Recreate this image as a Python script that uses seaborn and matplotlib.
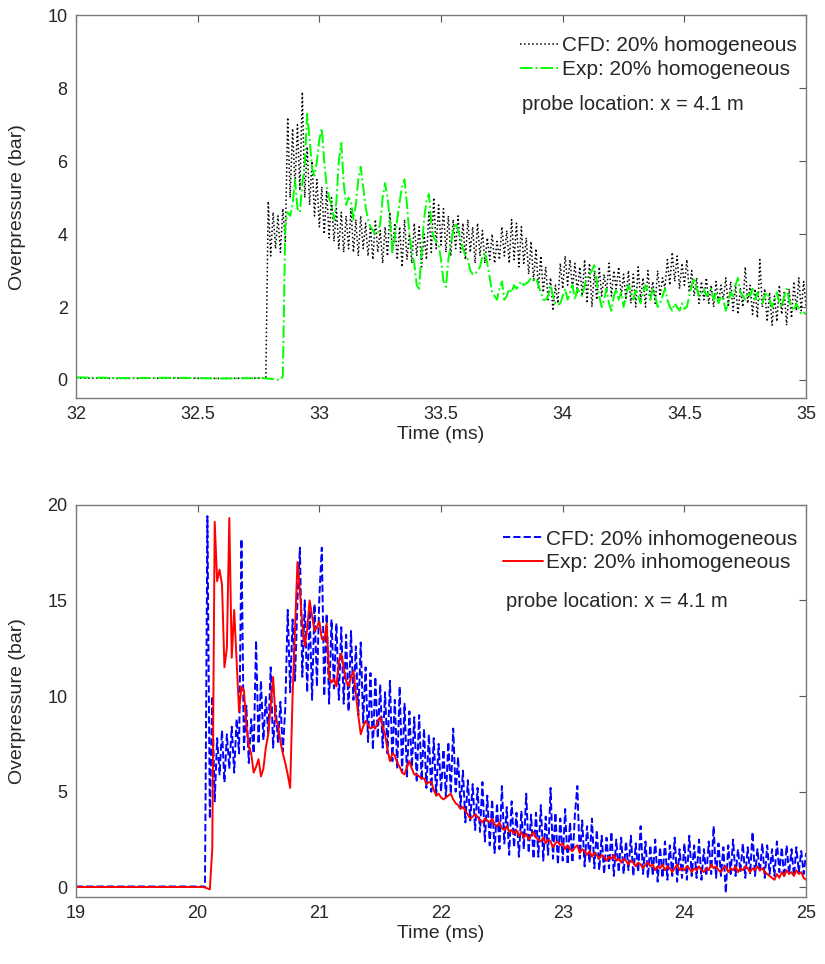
import numpy as np
import pandas as pd
import matplotlib
matplotlib.use('Agg')
import matplotlib.pyplot as plt
import seaborn as sns

# ---- top panel: 20% homogeneous, probe at x = 4.1 m ----
# CFD (black dotted), sampled every 0.01 ms from 32.78 ms
cfd_hom_t0 = 32.78
cfd_hom_dt = 0.01
cfd_hom = [0.05, 4.9, 3.4, 4.6, 3.6, 4.5, 3.5, 4.7, 3.8, 7.2,
           5.0, 6.9, 5.3, 7.0, 5.2, 7.9, 5.0, 6.4, 4.8, 6.0,
           4.5, 5.5, 4.2, 5.3, 4.0, 5.2, 3.9, 5.0, 3.8, 4.7,
           3.6, 4.6, 3.5, 4.5, 3.6, 4.7, 3.5, 4.4, 3.4, 4.5,
           3.6, 4.3, 3.4, 4.2, 3.3, 4.4, 3.5, 4.1, 3.2, 4.2,
           3.4, 4.6, 3.5, 4.3, 3.3, 4.2, 3.1, 4.4, 3.3, 4.0,
           3.2, 4.3, 3.4, 4.2, 3.1, 4.0, 3.3, 4.6, 3.5, 5.0,
           3.6, 4.8, 3.7, 4.7, 3.5, 4.5, 3.4, 4.4, 3.6, 4.5,
           3.5, 4.3, 3.3, 4.4, 3.5, 4.2, 3.2, 4.3, 3.4, 4.1,
           3.2, 3.9, 3.3, 4.0, 3.2, 3.8, 3.3, 4.2, 3.4, 4.1,
           3.2, 4.4, 3.3, 4.3, 3.1, 4.2, 3.2, 3.9, 2.9, 3.8,
           2.7, 3.6, 2.5, 3.4, 2.4, 3.1, 2.2, 2.8, 1.9, 2.6,
           2.1, 3.2, 2.5, 3.4, 2.6, 3.3, 2.5, 3.2, 2.4, 3.1,
           2.3, 3.3, 2.1, 3.2, 2.0, 3.0, 2.2, 3.1, 2.3, 2.9,
           2.4, 3.2, 2.3, 3.0, 2.5, 3.1, 2.3, 2.9, 2.2, 3.0,
           2.1, 2.9, 2.0, 3.1, 2.2, 2.8, 2.0, 3.0, 2.2, 2.7,
           2.1, 3.0, 2.3, 2.8, 2.5, 3.3, 2.6, 3.5, 2.7, 3.4,
           2.5, 3.2, 2.6, 3.3, 2.4, 3.0, 2.3, 2.8, 2.1, 2.7,
           2.2, 2.8, 2.1, 2.6, 2.0, 2.7, 2.1, 2.6, 2.2, 2.8,
           2.0, 2.7, 1.9, 2.6, 1.8, 2.5, 2.0, 3.1, 2.1, 2.6,
           1.8, 2.5, 1.7, 3.3, 2.0, 2.5, 1.6, 2.4, 1.5, 2.3,
           1.6, 2.6, 1.8, 2.4, 1.5, 2.5, 1.7, 2.7, 1.9, 2.8,
           1.9, 2.7, 2.0]

# Experiment (green dash-dot), sampled every 0.01 ms from 32.84 ms
exp_hom_t0 = 32.84
exp_hom_dt = 0.01
exp_hom = [0.0, 0.1, 4.2, 4.6, 4.5, 4.8, 5.5, 4.7, 4.6, 5.4,
           5.9, 7.3, 6.6, 5.8, 5.6, 6.0, 6.6, 6.9, 6.0, 5.3,
           5.0, 4.8, 4.4, 4.9, 6.0, 6.5, 5.4, 4.8, 5.0, 4.9,
           4.4, 4.8, 5.5, 5.85, 5.3, 4.75, 4.4, 4.2, 4.1, 4.0,
           4.0, 4.3, 5.0, 5.4, 5.0, 4.4, 3.5, 3.9, 4.4, 4.9,
           5.3, 5.5, 4.8, 4.0, 3.5, 3.2, 2.6, 2.5, 3.5, 4.4,
           4.9, 5.1, 4.3, 3.9, 3.8, 3.7, 3.3, 2.7, 2.55, 3.3,
           3.7, 4.1, 4.3, 4.1, 3.9, 3.6, 3.4, 3.3, 3.0, 2.9,
           2.9, 3.0, 3.1, 3.4, 3.5, 3.2, 2.8, 2.4, 2.3, 2.2,
           2.5, 2.7, 2.2, 2.3, 2.5, 2.4, 2.6, 2.5, 2.6, 2.7,
           2.6, 2.65, 2.7, 2.8, 2.75, 2.8, 2.6, 2.4, 2.2, 2.2,
           2.3, 2.6, 2.3, 2.1, 2.05, 2.1, 2.3, 2.5, 2.2, 2.4,
           2.6, 2.2, 2.5, 2.4, 2.3, 2.6, 2.8, 2.9, 3.0, 3.15,
           2.7, 2.3, 2.0, 2.2, 2.5, 2.1, 1.9, 2.3, 2.5, 2.2,
           2.4, 2.0, 2.3, 2.6, 2.4, 2.2, 2.5, 2.3, 2.1, 2.4,
           2.6, 2.4, 2.2, 2.5, 2.3, 2.0, 2.1, 2.3, 2.5, 2.2,
           2.0, 1.9, 2.1, 2.0, 1.9, 2.1, 1.95, 2.0, 2.3, 2.6,
           2.8, 2.5, 2.3, 2.4, 2.5, 2.3, 2.4, 2.5, 2.2, 2.4,
           2.1, 2.3, 2.2, 1.9, 2.1, 2.4, 2.3, 2.6, 2.8, 2.4,
           2.3, 2.2, 2.4, 2.3, 2.5, 2.2, 2.4, 2.2, 2.1, 2.3,
           2.4, 2.2, 2.0, 2.2, 2.4, 2.1, 2.0, 2.3, 2.5, 2.2,
           2.0, 1.9, 2.1, 1.95, 1.8, 1.85, 1.8]

# quiet part before the shock arrives
pre_hom_t = [32.0, 32.2, 32.4, 32.6, 32.77]
pre_hom_cfd = [0.05, 0.04, 0.05, 0.04, 0.05]
pre_hom_exp = [0.07, 0.05, 0.06, 0.04, 0.05]

# ---- bottom panel: 20% inhomogeneous, probe at x = 4.1 m ----
# CFD (blue dashed), sampled every 0.02 ms from 20.06 ms
cfd_inh_t0 = 20.06
cfd_inh_dt = 0.02
cfd_inh = [0.0, 19.4, 3.6, 10.0, 4.5, 7.8, 5.9, 8.2, 5.5, 8.0,
           6.2, 8.4, 6.0, 8.8, 7.0, 18.2, 7.2, 9.5, 6.5, 8.8,
           7.0, 12.9, 7.5, 10.8, 7.7, 10.0, 8.0, 11.5, 7.3, 9.5,
           7.6, 9.7, 7.1, 9.4, 14.5, 10.2, 14.0, 10.8, 15.0, 17.75,
           11.0, 15.0, 10.2, 14.5, 9.8, 14.8, 10.5, 15.2, 17.75, 10.0,
           14.3, 9.6, 14.0, 10.4, 13.8, 9.8, 13.6, 9.6, 13.2, 9.2,
           13.4, 9.8, 12.6, 9.0, 12.8, 8.6, 11.5, 7.6, 11.2, 7.2,
           11.0, 7.8, 10.6, 7.3, 10.2, 7.0, 10.8, 6.6, 9.8, 6.2,
           10.5, 6.0, 9.6, 5.8, 9.2, 6.3, 8.9, 5.5, 9.0, 5.6,
           8.3, 5.2, 8.0, 5.0, 7.8, 4.8, 7.5, 5.0, 7.2, 4.7,
           7.6, 4.9, 8.3, 5.0, 6.8, 4.2, 6.1, 3.4, 5.6, 3.5,
           5.4, 3.0, 5.2, 2.9, 5.5, 2.4, 4.8, 2.2, 4.6, 1.8,
           4.4, 2.0, 5.3, 2.3, 4.2, 1.7, 4.5, 2.1, 3.9, 1.6,
           4.0, 2.0, 4.9, 1.8, 3.8, 1.5, 3.9, 1.6, 4.3, 1.4,
           3.7, 1.7, 5.2, 1.5, 3.9, 1.2, 3.6, 1.4, 4.1, 1.2,
           3.4, 1.3, 3.8, 5.3, 1.5, 3.5, 1.1, 3.2, 1.3, 3.6,
           1.0, 3.0, 0.9, 2.7, 0.7, 2.6, 1.0, 2.9, 0.6, 2.5,
           0.8, 2.6, 0.7, 2.4, 0.9, 2.7, 0.6, 2.3, 0.8, 3.2,
           0.7, 2.4, 0.5, 2.2, 0.6, 2.5, 0.3, 2.1, 0.5, 2.4,
           0.4, 2.2, 0.6, 2.6, 0.3, 2.0, 0.5, 2.3, 0.4, 2.7,
           0.6, 2.2, 0.5, 2.5, 0.4, 2.0, 0.6, 2.4, 0.7, 3.2,
           0.5, 2.3, 0.6, 2.1, -0.3, 2.2, 0.7, 2.5, 0.6, 2.0,
           0.8, 2.3, 0.5, 2.1, 0.7, 2.9, 0.6, 2.0, 0.8, 2.3,
           0.5, 2.2, 0.7, 2.0, 0.6, 2.4, 0.8, 2.1, 0.5, 2.2,
           0.7, 2.0, 0.6, 2.1, 0.8, 1.9, 0.7, 1.8]

# Experiment (red solid), sampled every 0.02 ms from 20.10 ms
exp_inh_t0 = 20.10
exp_inh_dt = 0.02
exp_inh = [-0.1, 2.0, 19.1, 16.0, 16.6, 15.8, 11.5, 12.5, 19.3, 12.0,
           14.5, 11.8, 9.2, 10.5, 10.3, 8.5, 7.4, 7.0, 6.0, 6.3,
           6.7, 5.8, 6.2, 7.3, 8.0, 9.5, 11.0, 8.8, 8.5, 7.6,
           7.0, 6.5, 5.9, 5.2, 10.0, 13.5, 17.0, 15.5, 13.7, 12.6,
           13.5, 15.0, 14.2, 13.4, 13.6, 13.9, 13.0, 12.9, 13.8, 11.0,
           10.7, 10.9, 10.5, 11.8, 12.2, 11.5, 10.8, 10.5, 11.0, 11.3,
           10.1, 9.0, 8.0, 8.4, 8.7, 8.5, 8.3, 8.4, 8.3, 8.7,
           8.9, 8.4, 8.0, 7.2, 6.6, 7.0, 6.9, 6.5, 6.3, 6.0,
           5.9, 6.3, 6.6, 6.2, 5.9, 5.9, 5.8, 5.7, 5.7, 5.4,
           5.5, 5.5, 5.1, 4.8, 4.9, 4.7, 4.6, 4.7, 4.8, 4.9,
           4.6, 4.4, 4.3, 4.1, 4.2, 4.0, 3.8, 3.6, 3.7, 3.8,
           3.7, 3.5, 3.4, 3.6, 3.5, 3.4, 3.6, 3.3, 3.2, 3.4,
           3.1, 3.0, 3.2, 2.9, 3.0, 2.8, 3.0, 2.7, 2.9, 2.6,
           2.8, 2.5, 2.7, 2.9, 2.6, 2.5, 2.4, 2.6, 2.3, 2.5,
           2.4, 2.1, 2.3, 2.4, 2.2, 2.3, 2.0, 2.2, 2.0, 1.9,
           2.1, 2.2, 1.8, 2.0, 1.9, 1.7, 1.9, 1.6, 1.8, 1.7,
           1.5, 1.7, 1.6, 1.4, 1.6, 1.5, 1.7, 1.4, 1.5, 1.3,
           1.5, 1.4, 1.2, 1.4, 1.3, 1.1, 1.3, 1.2, 1.0, 1.2,
           1.3, 1.1, 1.2, 0.9, 1.1, 1.0, 1.2, 0.9, 1.1, 1.0,
           0.8, 1.0, 1.2, 0.9, 1.0, 0.9, 1.1, 1.0, 0.8, 1.0,
           0.9, 1.1, 0.9, 0.8, 1.0, 0.9, 1.2, 1.0, 1.1, 0.9,
           0.8, 1.0, 1.1, 0.8, 1.0, 0.9, 1.1, 0.8, 1.0, 0.9,
           1.1, 1.0, 0.8, 1.0, 0.9, 1.1, 0.9, 1.0, 0.8, 0.7,
           0.6, 0.5, 0.4, 0.7, 0.5, 0.8, 0.6, 0.9, 0.7, 0.8,
           0.6, 0.9, 0.7, 0.8, 0.5, 0.4]

pre_inh_t = [19.0, 19.3, 19.6, 19.9, 20.05]
pre_inh_cfd = [0.05, 0.05, 0.05, 0.05, 0.05]
pre_inh_exp = [0.02, 0.02, 0.02, 0.02, 0.02]

top_xticks = [32, 32.5, 33, 33.5, 34, 34.5, 35]
top_yticks = [0, 2, 4, 6, 8, 10]
bot_xticks = [19, 20, 21, 22, 23, 24, 25]
bot_yticks = [0, 5, 10, 15, 20]


def series(pre_t, pre_v, t0, dt, vals):
    t = list(pre_t) + list(t0 + dt * np.arange(len(vals)))
    v = list(pre_v) + list(vals)
    return pd.DataFrame({'t': t, 'p': v})


sns.set_theme(style='white')
plt.rcParams['font.family'] = ['Liberation Sans', 'DejaVu Sans']
plt.rcParams['axes.edgecolor'] = '#7a7a7a'
plt.rcParams['axes.linewidth'] = 1.0
plt.rcParams['text.color'] = '#262626'
plt.rcParams['axes.labelcolor'] = '#262626'
plt.rcParams['xtick.color'] = '#262626'
plt.rcParams['ytick.color'] = '#262626'

fig = plt.figure(figsize=(8.25, 9.64), dpi=100)
ax1 = fig.add_axes([0.0921, 0.587, 0.885, 0.397])
ax2 = fig.add_axes([0.0921, 0.0695, 0.885, 0.407])

d = series(pre_hom_t, pre_hom_cfd, cfd_hom_t0, cfd_hom_dt, cfd_hom)
sns.lineplot(data=d, x='t', y='p', ax=ax1, color='black', linestyle=':',
             linewidth=1.1, estimator=None, sort=False,
             label='CFD: 20% homogeneous')
d = series(pre_hom_t, pre_hom_exp, exp_hom_t0, exp_hom_dt, exp_hom)
sns.lineplot(data=d, x='t', y='p', ax=ax1, color='#00ff00', linestyle='-.',
             linewidth=1.4, estimator=None, sort=False,
             label='Exp: 20% homogeneous')

d = series(pre_inh_t, pre_inh_cfd, cfd_inh_t0, cfd_inh_dt, cfd_inh)
sns.lineplot(data=d, x='t', y='p', ax=ax2, color='#0000ff', linestyle='--',
             linewidth=1.4, estimator=None, sort=False,
             label='CFD: 20% inhomogeneous')
d = series(pre_inh_t, pre_inh_exp, exp_inh_t0, exp_inh_dt, exp_inh)
sns.lineplot(data=d, x='t', y='p', ax=ax2, color='#ff0000', linestyle='-',
             linewidth=1.4, estimator=None, sort=False,
             label='Exp: 20% inhomogeneous')

legends = []
for ax, xt, yt, xl, yl, ly, ty in [
        (ax1, top_xticks, top_yticks, (32, 35), (-0.5, 10), 0.945, 0.768),
        (ax2, bot_xticks, bot_yticks, (19, 25), (-0.5, 20), 0.936, 0.752)]:
    ax.set_xlim(*xl)
    ax.set_ylim(*yl)
    ax.set_xticks(xt)
    ax.set_xticklabels(['%g' % v for v in xt])
    ax.set_yticks(yt)
    ax.tick_params(direction='in', top=True, right=True, length=5,
                   width=0.8, labelsize=13, color='#555555', pad=6)
    ax.set_xlabel('Time (ms)', fontsize=14, labelpad=2)
    ax.set_ylabel('Overpressure (bar)', fontsize=14)
    ax.yaxis.set_label_coords(-0.069, 0.5)
    leg = ax.legend(loc='upper right', bbox_to_anchor=(0.988, ly),
                    frameon=False, fontsize=15, handlelength=1.9,
                    handletextpad=0.15, borderpad=0, borderaxespad=0,
                    labelspacing=0.22)
    legends.append((ax, leg, ty))

# "probe location" note starts where the legend lines start
fig.canvas.draw()
for ax, leg, ty in legends:
    x0 = leg.get_window_extent().x0
    xa = ax.transAxes.inverted().transform((x0, 0))[0]
    ax.text(xa + 0.003, ty, 'probe location: x = 4.1 m', transform=ax.transAxes,
            fontsize=14.5, va='center', ha='left')

fig.savefig('out.png', dpi=100)
